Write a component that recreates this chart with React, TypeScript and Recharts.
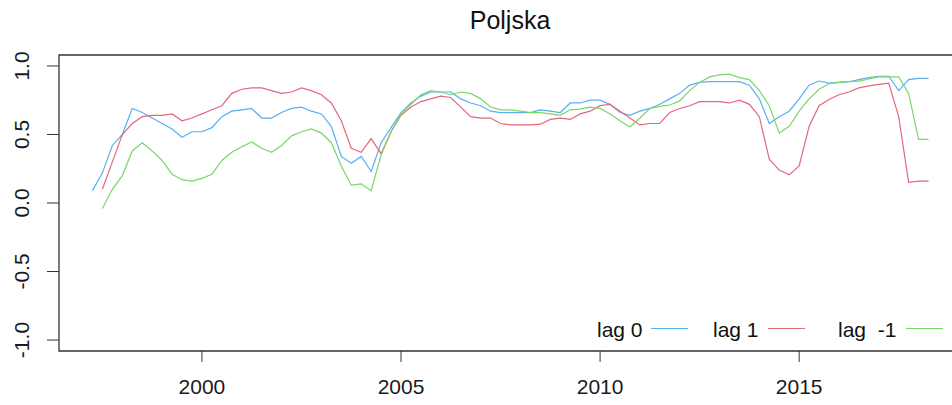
import React from 'react';
import { LineChart, Line, XAxis, YAxis, ReferenceArea, Legend } from 'recharts';

// quarterly time points
const quarters = [
  1997.25, 1997.5, 1997.75, 1998, 1998.25, 1998.5, 1998.75, 1999, 1999.25, 1999.5, 1999.75,
  2000, 2000.25, 2000.5, 2000.75, 2001, 2001.25, 2001.5, 2001.75, 2002, 2002.25, 2002.5, 2002.75,
  2003, 2003.25, 2003.5, 2003.75, 2004, 2004.25, 2004.5, 2004.75, 2005, 2005.25, 2005.5, 2005.75,
  2006, 2006.25, 2006.5, 2006.75, 2007, 2007.25, 2007.5, 2007.75, 2008, 2008.25, 2008.5, 2008.75,
  2009, 2009.25, 2009.5, 2009.75, 2010, 2010.25, 2010.5, 2010.75, 2011, 2011.25, 2011.5, 2011.75,
  2012, 2012.25, 2012.5, 2012.75, 2013, 2013.25, 2013.5, 2013.75, 2014, 2014.25, 2014.5, 2014.75,
  2015, 2015.25, 2015.5, 2015.75, 2016, 2016.25, 2016.5, 2016.75, 2017, 2017.25, 2017.5, 2017.75,
  2018, 2018.25,
];

const lag0 = [
  0.09, 0.22, 0.42, 0.5, 0.69, 0.66, 0.62, 0.58, 0.54, 0.48, 0.52,
  0.52, 0.55, 0.63, 0.67, 0.68, 0.69, 0.62, 0.62, 0.66, 0.69, 0.7, 0.67,
  0.65, 0.56, 0.34, 0.29, 0.34, 0.23, 0.44, 0.55, 0.66, 0.73, 0.78, 0.81,
  0.81, 0.81, 0.76, 0.73, 0.71, 0.67, 0.66, 0.66, 0.66, 0.66, 0.68, 0.67,
  0.66, 0.73, 0.73, 0.75, 0.75, 0.72, 0.66, 0.64, 0.67, 0.69, 0.72, 0.76,
  0.8, 0.86, 0.88, 0.885, 0.885, 0.885, 0.885, 0.86, 0.76, 0.58, 0.63, 0.67,
  0.76, 0.86, 0.89, 0.875, 0.88, 0.885, 0.9, 0.915, 0.925, 0.925, 0.82, 0.9,
  0.91, 0.91,
];

const lag1 = [
  null, 0.1, 0.3, 0.5, 0.58, 0.63, 0.64, 0.64, 0.65, 0.6, 0.62,
  0.65, 0.68, 0.71, 0.8, 0.83, 0.84, 0.84, 0.82, 0.8, 0.81, 0.84, 0.82,
  0.79, 0.73, 0.6, 0.4, 0.37, 0.47, 0.36, 0.52, 0.64, 0.7, 0.74, 0.76,
  0.78, 0.77, 0.7, 0.63, 0.62, 0.62, 0.58, 0.57, 0.57, 0.57, 0.575, 0.61,
  0.62, 0.61, 0.65, 0.67, 0.71, 0.72, 0.67, 0.62, 0.57, 0.58, 0.58, 0.66,
  0.69, 0.71, 0.74, 0.74, 0.74, 0.73, 0.75, 0.72, 0.63, 0.32, 0.24, 0.205,
  0.27, 0.56, 0.71, 0.755, 0.79, 0.81, 0.84, 0.855, 0.865, 0.875, 0.63, 0.15,
  0.16, 0.16,
];

const lagMinus1 = [
  null, -0.04, 0.1, 0.2, 0.38, 0.44, 0.38, 0.31, 0.21, 0.17, 0.16,
  0.18, 0.21, 0.31, 0.37, 0.41, 0.445, 0.4, 0.37, 0.42, 0.49, 0.52, 0.54,
  0.51, 0.44, 0.27, 0.13, 0.14, 0.09, 0.35, 0.52, 0.65, 0.72, 0.79, 0.82,
  0.81, 0.79, 0.81, 0.8, 0.76, 0.7, 0.68, 0.68, 0.67, 0.66, 0.66, 0.65,
  0.64, 0.68, 0.685, 0.7, 0.69, 0.65, 0.6, 0.555, 0.62, 0.69, 0.705, 0.715,
  0.745, 0.82, 0.88, 0.92, 0.935, 0.94, 0.915, 0.9, 0.82, 0.71, 0.51, 0.56,
  0.67, 0.76, 0.83, 0.87, 0.88, 0.885, 0.89, 0.905, 0.92, 0.92, 0.92, 0.8,
  0.465, 0.465,
];

const xTicks = [2000, 2005, 2010, 2015];
const yTicks = [-1, -0.5, 0, 0.5, 1];

const data = quarters.map((t, i) => ({
  t,
  lag0: lag0[i],
  lag1: lag1[i],
  lagm1: lagMinus1[i],
}));

const BLUE = '#58b0f1';
const RED = '#e4677c';
const GREEN = '#79d769';
const AXIS = '#333';
const FONT = '"Liberation Sans", Arial, sans-serif';

const XTick = ({ x, payload }: any) => (
  <text x={x} y={386} textAnchor="middle" dominantBaseline="central" fontSize={21} fontFamily={FONT} fill="#1a1a1a">
    {payload.value}
  </text>
);

const YTick = ({ y, payload }: any) => (
  <text
    x={0}
    y={0}
    transform={`translate(21, ${y}) rotate(-90)`}
    textAnchor="middle"
    dominantBaseline="central"
    fontSize={21}
    fontFamily={FONT}
    fill="#1a1a1a"
  >
    {Number(payload.value).toFixed(1)}
  </text>
);

const legendItems = [
  { label: 'lag 0', color: BLUE, tx: 7, l1: 61, l2: 98 },
  { label: 'lag 1', color: RED, tx: 123, l1: 178, l2: 215 },
  { label: 'lag  -1', color: GREEN, tx: 248, l1: 316, l2: 353 },
];

const renderLegend = () => (
  <svg width={362} height={30}>
    {legendItems.map((it) => (
      <g key={it.label}>
        <text
          x={it.tx}
          y={15}
          dominantBaseline="central"
          fontSize={21}
          fontFamily={FONT}
          fill="#111"
          style={{ whiteSpace: 'pre' }}
        >
          {it.label}
        </text>
        <line x1={it.l1} x2={it.l2} y1={14.5} y2={14.5} stroke={it.color} strokeWidth={1.2} />
      </g>
    ))}
  </svg>
);

export default function App() {
  return (
    <div
      style={{
        position: 'absolute',
        left: 0,
        top: 0,
        width: 952,
        height: 405,
        overflow: 'hidden',
        background: '#fff',
        fontFamily: FONT,
      }}
    >
      <div
        style={{
          position: 'absolute',
          left: 0,
          top: 6,
          width: 1020,
          textAlign: 'center',
          fontSize: 25,
          color: '#111',
        }}
      >
        Poljska
      </div>
      <LineChart width={970} height={405} data={data} margin={{ top: 55, right: 8, left: 0, bottom: 24 }}>
        <XAxis
          dataKey="t"
          type="number"
          domain={[1996.41, 2019.09]}
          ticks={xTicks}
          axisLine={false}
          tickLine={{ stroke: AXIS }}
          tickSize={11}
          height={30}
          tick={<XTick />}
          allowDataOverflow
        />
        <YAxis
          type="number"
          domain={[-1.08, 1.08]}
          ticks={yTicks}
          axisLine={false}
          tickLine={{ stroke: AXIS }}
          tickSize={12}
          width={59}
          tick={<YTick />}
          allowDataOverflow
        />
        <ReferenceArea x1={1996.41} x2={2019.09} y1={-1.08} y2={1.08} fill="none" stroke={AXIS} strokeWidth={1.3} />
        <Legend
          layout="horizontal"
          verticalAlign="middle"
          align="center"
          content={renderLegend}
          wrapperStyle={{ position: 'absolute', left: 590, top: 314, width: 362, height: 30 }}
        />
        <Line dataKey="lag0" stroke={BLUE} strokeWidth={1.2} dot={false} isAnimationActive={false} type="linear" />
        <Line dataKey="lag1" stroke={RED} strokeWidth={1.2} dot={false} isAnimationActive={false} type="linear" />
        <Line dataKey="lagm1" stroke={GREEN} strokeWidth={1.2} dot={false} isAnimationActive={false} type="linear" />
      </LineChart>
    </div>
  );
}
